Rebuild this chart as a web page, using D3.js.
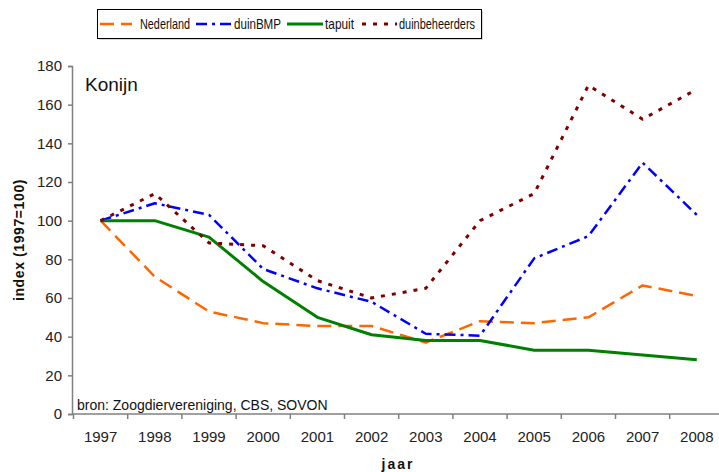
<!DOCTYPE html>
<html>
<head>
<meta charset="utf-8">
<script src="https://cdn.jsdelivr.net/npm/d3@7"></script>
<style>
  body { margin: 0; background: #fff; }
  text { font-family: Arial, "Liberation Sans", sans-serif; }
</style>
</head>
<body>
<div id="svg"></div>
<script>
// Jaren (categorieën)
var jaren = ["1997", "1998", "1999", "2000", "2001", "2002", "2003", "2004", "2005", "2006", "2007", "2008"];

// Index (1997=100) per bron
var nederland = [100, 71, 53, 47, 45.5, 45.5, 37, 48, 47, 50, 66.5, 61];
var duinBMP = [100, 109, 103, 75, 65, 58, 41.5, 40.5, 80.5, 92, 130, 103];
var tapuit = [100, 100, 91.5, 68.5, 50, 41, 38, 38, 33, 33, 30.5, 28];
var duinbeheerders = [100, 114, 88.5, 87, 69, 60, 65, 100, 114, 170, 152.5, 168];

var yTicks = [0, 20, 40, 60, 80, 100, 120, 140, 160, 180];

// Series met stijl
var series = [
    { name: "Nederland", values: nederland, color: "#FF6600", dash: "14,7", width: 2.5 },
    { name: "duinBMP", values: duinBMP, color: "#0000FF", dash: "11,5,3,5", width: 2.5 },
    { name: "tapuit", values: tapuit, color: "#008000", dash: null, width: 3 },
    { name: "duinbeheerders", values: duinbeheerders, color: "#800000", dash: "4,7", width: 3 }
];

var width = 719;
var height = 472;

var svg = d3.select("#svg").append("svg")
    .attr("width", width)
    .attr("height", height);

var x = d3.scaleBand()
    .domain(jaren)
    .range([73.5, 723.9]);

var y = d3.scaleLinear()
    .domain([0, 180])
    .range([414, 66]);

// Y-as
var yAxis = svg.append("g")
    .attr("transform", "translate(72,0)")
    .call(d3.axisLeft(y).tickValues(yTicks).tickSize(4).tickPadding(6));

yAxis.select(".domain").attr("stroke", "#808080").attr("stroke-width", 1.5);
yAxis.selectAll(".tick line").attr("stroke", "#808080").attr("stroke-width", 1.5);
yAxis.selectAll(".tick text")
    .attr("font-size", 15)
    .attr("fill", "#222")
    .attr("font-family", "Arial, 'Liberation Sans', sans-serif");

// X-as: lijn met streepjes tussen de jaren
var xAxis = svg.append("g").attr("class", "xas");

xAxis.append("line")
    .attr("x1", 72).attr("x2", width)
    .attr("y1", y(0)).attr("y2", y(0))
    .attr("stroke", "#808080")
    .attr("stroke-width", 1.5);

xAxis.selectAll(".xtick")
    .data(jaren)
    .enter().append("line")
    .attr("class", "xtick")
    .attr("x1", function(d) { return x(d); })
    .attr("x2", function(d) { return x(d); })
    .attr("y1", y(0))
    .attr("y2", y(0) + 5)
    .attr("stroke", "#808080")
    .attr("stroke-width", 1.5);

xAxis.selectAll(".xlabel")
    .data(jaren)
    .enter().append("text")
    .attr("class", "xlabel")
    .attr("x", function(d) { return x(d) + x.bandwidth() / 2; })
    .attr("y", 442)
    .attr("text-anchor", "middle")
    .attr("font-size", 15)
    .attr("fill", "#222")
    .text(function(d) { return d; });

// Lijnen (rechte stukken tussen de jaren)
var line = d3.line()
    .x(function(d, i) { return x(jaren[i]) + x.bandwidth() / 2; })
    .y(function(d) { return y(d); });

svg.selectAll(".serie")
    .data(series)
    .enter().append("path")
    .attr("class", "serie")
    .attr("fill", "none")
    .attr("stroke", function(d) { return d.color; })
    .attr("stroke-width", function(d) { return d.width; })
    .attr("stroke-dasharray", function(d) { return d.dash; })
    .attr("stroke-linejoin", "round")
    .attr("d", function(d) { return line(d.values); });

// Teksten in het plotvlak
svg.append("text")
    .attr("x", 85).attr("y", 91)
    .attr("font-size", 19)
    .attr("fill", "#111")
    .text("Konijn");

svg.append("text")
    .attr("x", 77).attr("y", 410)
    .attr("font-size", 14)
    .attr("fill", "#111")
    .text("bron: Zoogdiervereniging, CBS, SOVON");

// As-titels
svg.append("text")
    .attr("transform", "translate(24,240) rotate(-90)")
    .attr("text-anchor", "middle")
    .attr("font-size", 14)
    .attr("font-weight", "bold")
    .attr("letter-spacing", 0.6)
    .attr("fill", "#111")
    .text("index (1997=100)");

svg.append("text")
    .attr("x", 398).attr("y", 469)
    .attr("text-anchor", "middle")
    .attr("font-size", 14)
    .attr("font-weight", "bold")
    .attr("letter-spacing", 2)
    .attr("fill", "#111")
    .text("jaar");

// Legenda
var legendPos = [
    { lx: 100, lw: 32, tx: 140, tw: 50 },
    { lx: 196, lw: 36, tx: 234, tw: 47 },
    { lx: 287, lw: 36, tx: 325, tw: 29 },
    { lx: 362, lw: 35, tx: 399, tw: 76 }
];

var legend = svg.append("g");

legend.append("rect")
    .attr("x", 99).attr("y", 11)
    .attr("width", 384).attr("height", 29)
    .attr("fill", "#d8d8d8");

legend.append("rect")
    .attr("x", 97.5).attr("y", 9.5)
    .attr("width", 384).attr("height", 29)
    .attr("fill", "#fff")
    .attr("stroke", "#000")
    .attr("stroke-width", 1);

var item = legend.selectAll(".item")
    .data(series)
    .enter().append("g")
    .attr("class", "item");

item.append("line")
    .attr("x1", function(d, i) { return legendPos[i].lx; })
    .attr("x2", function(d, i) { return legendPos[i].lx + legendPos[i].lw; })
    .attr("y1", 24).attr("y2", 24)
    .attr("stroke", function(d) { return d.color; })
    .attr("stroke-width", function(d) { return d.width; })
    .attr("stroke-dasharray", function(d) { return d.dash; });

item.append("text")
    .attr("x", function(d, i) { return legendPos[i].tx; })
    .attr("y", 29)
    .attr("font-size", 15)
    .attr("fill", "#111")
    .attr("textLength", function(d, i) { return legendPos[i].tw; })
    .attr("lengthAdjust", "spacingAndGlyphs")
    .text(function(d) { return d.name; });
</script>
</body>
</html>
